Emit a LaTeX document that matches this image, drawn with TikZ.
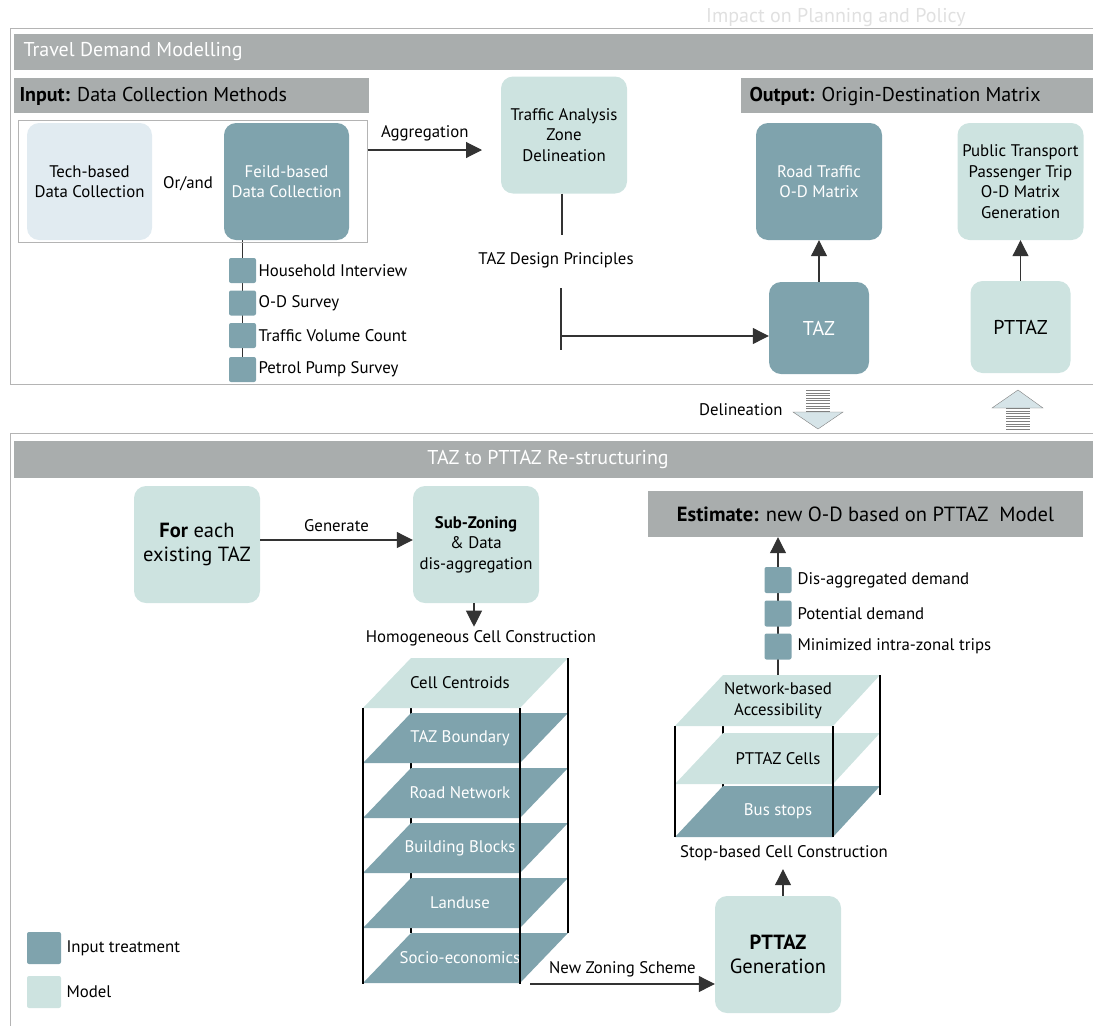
\documentclass[tikz,border=0pt]{standalone}
\usepackage{fontspec}
\setmainfont{PT Sans}
\usetikzlibrary{arrows.meta,positioning,backgrounds}

\definecolor{inputteal}{HTML}{7FA3AD}
\definecolor{modelteal}{HTML}{CDE3E0}
\definecolor{techblue}{HTML}{E1EBF1}
\definecolor{bargray}{HTML}{A9ADAD}
\definecolor{framegray}{HTML}{B4B4B4}
\definecolor{arrowfill}{HTML}{D6E4E8}

\begin{document}
\begin{tikzpicture}[x=1pt,y=-1pt,>={Triangle[length=16pt,width=16pt]},
    font=\fontsize{16.8}{20.5}\selectfont,
    box/.style={rounded corners=12pt,minimum width=126pt,minimum height=117pt,inner sep=2pt,align=center},
    treat/.style={box,fill=inputteal,text=white},
    model/.style={box,fill=modelteal},
    item/.style={fill=inputteal,rounded corners=2pt,minimum width=27pt,minimum height=25pt,inner sep=0pt},
    link/.style={draw=black!80,line width=1.1pt},
    frame/.style={draw=framegray,line width=1pt},
    pole/.style={draw=black,line width=1.7pt},
    bigtext/.style={font=\fontsize{20}{23}\selectfont}]
        \useasboundingbox (0,0) rectangle (1093,1026);

        % title over the frame
        \node[bigtext,text=black!12] (impact) at (836,18) {Impact on Planning and Policy};

        % frames of the two parts
        \draw[frame] (1093,28) -- (10,28) -- (10,384) -- (1093,384);
        \draw[frame] (1093,433) -- (10,433) -- (10,1026);

        % header bars
        \fill[bargray] (14,34) rectangle (1093,70);
        \node[bigtext,text=white,anchor=west] (tdm) at (20,52) {Travel Demand Modelling};
        \fill[bargray] (14,78) rectangle (369,113);
        \node[bigtext,anchor=west] (input) at (16,96) {\textbf{Input:} Data Collection Methods};
        \fill[bargray] (741,78) rectangle (1093,113);
        \node[bigtext,anchor=west] (output) at (746,96) {\textbf{Output:} Origin-Destination Matrix};
        \fill[bargray] (14,441) rectangle (1093,478);
        \node[bigtext,text=white] (restruct) at (548,460) {TAZ to PTTAZ Re-structuring};

        % data collection
        \node[frame,minimum width=349pt,minimum height=122pt] (inframe) at (192.5,181) {};
        \node[box,fill=techblue,minimum width=125pt] (tech) at (89.5,181.5) {Tech-based\\Data Collection};
        \node (orand) at (188,184) {Or/and};
        \node[treat,minimum width=125pt] (field) at (286.5,181.5) {Feild-based\\Data Collection};

        \foreach \y/\t [count=\i] in {270.5/Household Interview,
            303/O-D Survey,
            335.5/Traffic Volume Count,
            369.5/Petrol Pump Survey} {
                \node[item] (dc\i) at (242.5,\y) {};
                \node[anchor=west] (dcl\i) at (255,\y) {\t};
        }
        \begin{scope}[on background layer]
            \draw[link] (field.south -| dc1) -- (dc4);
        \end{scope}

        % zone delineation
        \node[model] (tzd) at (564,135) {Traffic Analysis\\Zone\\Delineation};
        \coordinate (aggend) at (482,150);
        \draw[link,->] (inframe.east |- aggend) -- (aggend) node[midway,above=5pt] (agg) {Aggregation};

        \node (tdp) at (556,260) {TAZ Design Principles};
        \coordinate (tdptop) at (562,235);
        \coordinate (tdpbot) at (561,288);
        \coordinate (tdpend) at (561,350);
        \coordinate (tdpjoin) at (561,336);
        \draw[link] (tzd.south -| tdptop) -- (tdptop);
        \draw[link] (tdpbot) -- (tdpend);

        % outputs
        \node[treat] (road) at (819,181.5) {Road Traffic\\O-D Matrix};
        \node[model] (ptod) at (1020.5,181.5) {Public Transport\\Passenger Trip\\O-D Matrix\\Generation};
        \node[treat,bigtext,minimum width=100pt,minimum height=92pt] (taz) at (819,328) {TAZ};
        \node[model,bigtext,minimum width=100pt,minimum height=92pt] (pttaz) at (1020.5,327) {PTTAZ};
        \draw[link,->] (tdpjoin) -- (tdpjoin -| taz.west);
        \draw[link,->] (taz) -- (road);
        \draw[link,->] (pttaz) -- (ptod);

        % block arrows between the parts
        \node[anchor=east] (delin) at (786,410) {Delineation};
        \filldraw[fill=arrowfill,draw=gray] (806,412) -- (793,412) -- (818,429) -- (843,412) -- (830,412) -- cycle;
        \fill[white] (806,390) rectangle (830,412);
        \foreach \s in {0,...,8}
                \draw[gray,line width=0.9pt] (806,{390.5+2.6*\s}) -- (830,{390.5+2.6*\s});
        \filldraw[fill=arrowfill,draw=gray] (1006,408) -- (992,408) -- (1018,390) -- (1043,408) -- (1030,408) -- cycle;
        \foreach \s in {0,...,8}
                \draw[gray,line width=0.9pt] (1006,{408.5+2.6*\s}) -- (1030,{408.5+2.6*\s});

        % sub-zoning
        \node[model,font=\fontsize{20.5}{24}\selectfont] (each) at (197,544.5) {\textbf{For} each\\existing TAZ};
        \node[model] (subzone) at (476,544.5) {\textbf{Sub-Zoning}\\\& Data\\dis-aggregation};
        \draw[link,->] (each.east |- 0,540) -- (subzone.west |- 0,540) node[midway,above=4pt] (gen) {Generate};
        \node (hcc) at (481,638) {Homogeneous Cell Construction};
        \draw[link,->] (subzone.south -| 474,0) -- (hcc.north -| 474,0);

        % homogeneous cell layers
        \draw[pole] (411,708) -- (411,933);
        \foreach \t/\fc/\tc [count=\i from 0] in {Cell Centroids/modelteal/black,
            TAZ Boundary/inputteal/white,
            Road Network/inputteal/white,
            Building Blocks/inputteal/white,
            Landuse/inputteal/white,
            Socio-economics/inputteal/white} {
                \pgfmathsetmacro\ytop{658+55*\i}
                \fill[\fc] (411,\ytop) -- (568,\ytop) -- (520,\ytop+50) -- (363,\ytop+50) -- cycle;
                \node[text=\tc] (hc\i) at (460,\ytop+25) {\t};
        }
        \draw[pole] (568,658) -- (568,933);
        \draw[pole] (363,708) -- (363,984);
        \draw[pole] (520,708) -- (520,984);

        % PTTAZ generation
        \node[model,font=\fontsize{20.5}{24}\selectfont] (pgen) at (778,954.5) {\textbf{PTTAZ}\\Generation};
        \coordinate (nzsstart) at (530,984);
        \draw[link,->] (nzsstart) -- (nzsstart -| pgen.west) node[midway,above=3pt] (nzs) {New Zoning Scheme};
        \node (sbc) at (784,853) {Stop-based Cell Construction};
        \draw[link,->] (pgen.north -| 783,0) -- ([yshift=-5pt]sbc.south -| 783,0);

        % stop-based cell layers
        \draw[pole] (723,726) -- (723,837);
        \foreach \ytop/\t/\fc/\tc [count=\i] in {675/Network-based\\Accessibility/modelteal/black,
            733/PTTAZ Cells/modelteal/black,
            786/Bus stops/inputteal/white} {
                \fill[\fc] (723,\ytop) -- (880,\ytop) -- (833,\ytop+51) -- (675,\ytop+51) -- cycle;
                \node[text=\tc,align=center] (sc\i) at (778,\ytop+25.5) {\t};
        }
        \draw[pole] (880,675) -- (880,795);
        \draw[pole] (675,726) -- (675,837);
        \draw[pole] (833,726) -- (833,837);

        % estimate
        \node[fill=bargray,minimum width=435pt,minimum height=46pt,font=\fontsize{20.5}{24}\selectfont] (estimate) at (865.5,514)
                {\textbf{Estimate:} new O-D based on PTTAZ\ \ Model};
        \foreach \y/\t [count=\i] in {580/Dis-aggregated demand,
            613.5/Potential demand,
            646.5/Minimized intra-zonal trips} {
                \node[item,minimum height=26pt] (em\i) at (778,\y) {};
                \node[anchor=west] (eml\i) at (794,\y) {\t};
        }
        \coordinate (nbatop) at (778,675);
        \begin{scope}[on background layer]
            \draw[link,->] (nbatop) -- (nbatop |- estimate.south);
        \end{scope}

        % legend
        \node[item,minimum width=34pt,minimum height=32pt] (leg1) at (44,948) {};
        \node[fill=modelteal,rounded corners=2pt,minimum width=34pt,minimum height=32pt] (leg2) at (44,992) {};
        \node[anchor=west] (legl1) at (63,948) {Input treatment};
        \node[anchor=west] (legl2) at (63,992) {Model};
\end{tikzpicture}
\end{document}
